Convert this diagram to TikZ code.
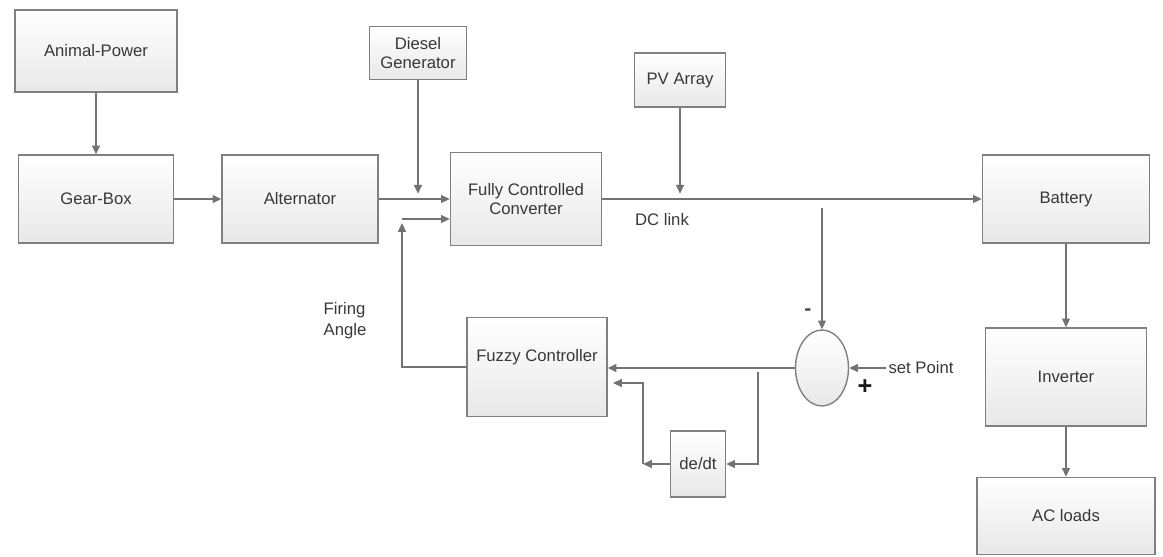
\documentclass[tikz,border=0pt]{standalone}
\usepackage{fontspec}
\setmainfont{Liberation Sans}
\usepackage{xcolor}
\usepackage{tikz}
\usetikzlibrary{shapes.geometric,arrows.meta,positioning,calc,shadings}

\begin{document}
\begin{tikzpicture}[
    x=0.02cm, y=-0.02cm,
    block/.style={rectangle, draw=black!50, line width=0.8pt, top color=white, bottom color=black!9, text=black!78, align=center, font=\fontsize{9.5}{11}\selectfont},
    txt/.style={text=black!78, font=\fontsize{9.5}{12}\selectfont, inner sep=1pt},
    arrow/.style={-{Triangle[length=5pt,width=4.5pt]}, draw=black!55, line width=0.8pt},
    wire/.style={draw=black!55, line width=0.8pt}
]
\useasboundingbox (0,0) rectangle (1163,556);

\node[block, minimum width=3.24cm, minimum height=1.64cm] (animal) at (96,51) {Animal-Power};
\node[block, minimum width=3.10cm, minimum height=1.76cm] (gear) at (96,199) {Gear-Box};
\node[block, minimum width=3.12cm, minimum height=1.76cm] (alt) at (300,199) {Alternator};
\node[block, minimum width=1.94cm, minimum height=1.06cm, inner sep=1pt] (diesel) at (418,53) {Diesel\\Generator};
\node[block, minimum width=3.02cm, minimum height=1.86cm] (conv) at (526,199) {Fully Controlled\\Converter};
\node[block, minimum width=1.82cm, minimum height=1.08cm] (pv) at (680,80) {PV Array};
\node[block, minimum width=3.34cm, minimum height=1.76cm] (battery) at (1066,199) {Battery};
\node[block, minimum width=3.22cm, minimum height=1.96cm] (inverter) at (1066,377) {Inverter};
\node[block, minimum width=3.56cm, minimum height=1.54cm] (acload) at (1066,516) {AC loads};
\node[block, minimum width=2.80cm, minimum height=1.98cm,
      label={[txt, yshift=0.2cm]center:Fuzzy Controller}] (fuzzy) at (537,367) {};
\node[block, minimum width=1.10cm, minimum height=1.32cm, inner sep=1pt] (dedt) at (698,464) {de/dt};
\node[block, ellipse, minimum width=1.06cm, minimum height=1.52cm, inner sep=0pt] (sum) at (822,368) {};

\node[txt] (dclink) at (662,220) {DC link};
\node[txt, align=left] (firing) at (345,321) {Firing\\Angle};
\node[txt] (setpt) at (921,368) {set Point};
\node[font=\bfseries\large, text=black!70] (minus) at (808,312) {-};
\node[font=\bfseries\Large, text=black!90] (plus) at (865,387) {+};

\coordinate (tap) at (822,208);
\coordinate (branch) at (758,372);
\coordinate (ddcorner) at (643,464);
\coordinate (fbtop) at (402,223);
\coordinate (fbin) at (402,219);

\draw[arrow] (animal) -- (gear);
\draw[arrow] (gear) -- (alt);
\draw[arrow] (alt.east) -- (alt.east -| conv.west);
\draw[arrow, shorten >=3pt] (diesel) -- (diesel |- alt.east);
\draw[arrow] (conv.east) -- (conv.east -| battery.west);
\draw[arrow, shorten >=3pt] (pv) -- (pv |- conv.east);
\draw[arrow] (battery) -- (inverter);
\draw[arrow] (inverter) -- (acload);

\draw[arrow] (tap) -- (sum.north);
\draw[arrow] (setpt.west) -- (sum.east);
\draw[arrow] (sum.west) -- (sum.west -| fuzzy.east);
\draw[arrow] (branch) |- (dedt.east);
\draw[arrow] (dedt.west) -- (ddcorner);
\draw[arrow, shorten >=3pt] (ddcorner) |- ([yshift=-0.32cm]fuzzy.east);

\draw[arrow] (fuzzy.west) -| (fbtop);
\draw[arrow] (fbin) -- (fbin -| conv.west);

\end{tikzpicture}
\end{document}
